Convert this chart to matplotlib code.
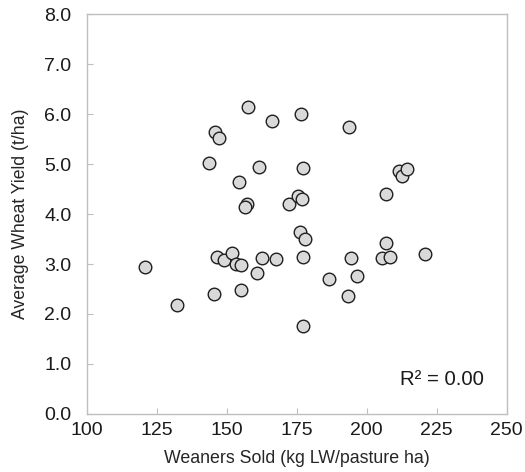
import matplotlib
matplotlib.use("Agg")
import matplotlib.pyplot as plt

plt.rcParams["font.family"] = ["Liberation Sans", "DejaVu Sans"]

# weaners sold (kg LW/pasture ha) vs average wheat yield (t/ha)
weaners_sold = [120.9, 132.4, 143.6, 146.0, 147.3, 145.4, 146.5, 149.0, 152.0,
                153.5, 155.2, 154.3, 155.2, 157.6, 157.4, 156.4, 160.7, 161.4,
                162.6, 166.3, 167.5, 172.1, 175.5, 177.0, 176.4, 177.3, 176.1,
                178.1, 177.4, 177.3, 186.7, 193.6, 194.3, 193.2, 196.4, 205.5,
                206.9, 207.0, 208.5, 211.4, 212.7, 214.4, 220.8]
wheat_yield = [2.95, 2.18, 5.03, 5.64, 5.53, 2.41, 3.14, 3.09, 3.23,
               3.01, 2.99, 4.65, 2.48, 6.15, 4.21, 4.14, 2.82, 4.95,
               3.13, 5.86, 3.10, 4.21, 4.37, 4.30, 6.00, 4.92, 3.65,
               3.51, 3.14, 1.76, 2.71, 5.75, 3.12, 2.36, 2.77, 3.13,
               4.41, 3.43, 3.15, 4.87, 4.76, 4.91, 3.21]
x_ticks = [100, 125, 150, 175, 200, 225, 250]
y_ticks = [0, 1, 2, 3, 4, 5, 6, 7, 8]
r2_label = "R² = 0.00"

fig = plt.figure(figsize=(5.25, 4.72), dpi=100)
ax = fig.add_axes([0.165, 0.123, 0.800, 0.847])

ax.scatter(weaners_sold, wheat_yield, s=82, facecolor="#d9d9d9",
           edgecolor="#1f1f1f", linewidth=1.0, zorder=3)

ax.set_xlim(100, 250)
ax.set_ylim(0, 8)
ax.set_xticks(x_ticks)
ax.set_yticks(y_ticks)
ax.set_yticklabels([f"{v:.1f}" for v in y_ticks])

for s in ax.spines.values():
    s.set_color("#bfbfbf")
    s.set_linewidth(1.0)
ax.tick_params(direction="in", length=4, color="#bfbfbf", labelsize=14,
               labelcolor="#1a1a1a")
ax.tick_params(axis="x", pad=6)
ax.tick_params(axis="y", pad=11)

ax.set_xlabel("Weaners Sold (kg LW/pasture ha)", fontsize=12.8, color="#262626", labelpad=8)
ax.set_ylabel("Average Wheat Yield (t/ha)", fontsize=12.7, color="#262626", labelpad=11)

ax.text(0.945, 0.085, r2_label, transform=ax.transAxes, ha="right", va="center",
        fontsize=14.7, color="#1a1a1a")

fig.savefig("out.png", dpi=100)
